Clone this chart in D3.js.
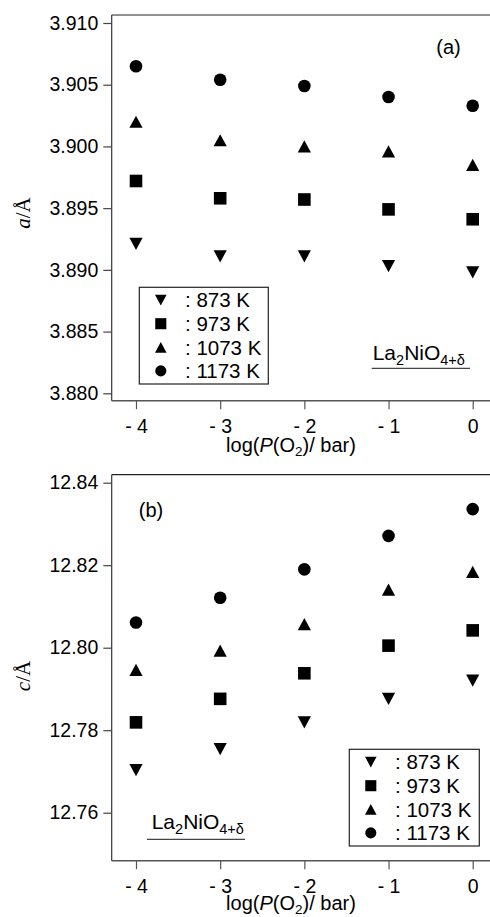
<!DOCTYPE html>
<html>
<head>
<meta charset="utf-8">
<script src="https://cdn.jsdelivr.net/npm/d3@7"></script>
<style>
  html, body { margin: 0; padding: 0; background: #fff; }
  svg { display: block; }
  text { font-family: "Liberation Sans", Arial, sans-serif; fill: #000; }
</style>
</head>
<body>
<svg id="chart" width="490" height="917"></svg>
<script>
// ---------- data ----------
const logP = [-4, -3, -2, -1, 0];
const tempLabels = ["873 K", "973 K", "1073 K", "1173 K"];
const symbolTypes = ["triangleDown", "square", "triangleUp", "circle"];

// lattice parameter a / Å
const a873  = [3.8921, 3.8911, 3.8911, 3.8903, 3.8898];
const a973  = [3.8972, 3.8958, 3.8957, 3.8949, 3.8941];
const a1073 = [3.9020, 3.9005, 3.9000, 3.8996, 3.8985];
const a1173 = [3.9065, 3.9054, 3.9049, 3.9040, 3.9033];

// lattice parameter c / Å
const c873  = [12.7703, 12.7754, 12.7819, 12.7876, 12.7920];
const c973  = [12.7819, 12.7876, 12.7938, 12.8005, 12.8042];
const c1073 = [12.7946, 12.7993, 12.8057, 12.8141, 12.8184];
const c1173 = [12.8061, 12.8121, 12.8190, 12.8271, 12.8336];

const xTicks = [-4, -3, -2, -1, 0];
const aTicks = [3.880, 3.885, 3.890, 3.895, 3.900, 3.905, 3.910];
const cTicks = [12.76, 12.78, 12.80, 12.82, 12.84];

const aSeries = [a873, a973, a1073, a1173];
const cSeries = [c873, c973, c1073, c1173];

// ---------- helpers ----------
function symbolPath(type, k) {
  k = k || 1;
  const r = 6.3 * k, s = 6.3 * k, w = 6.6 * k, h = 6.1 * k;
  switch (type) {
    case "circle":
      return `M${r},0A${r},${r} 0 1,1 ${-r},0A${r},${r} 0 1,1 ${r},0Z`;
    case "square":
      return `M${-s},${-s}H${s}V${s}H${-s}Z`;
    case "triangleUp":
      return `M0,${-h}L${w},${h}L${-w},${h}Z`;
    case "triangleDown":
      return `M0,${h}L${w},${-h}L${-w},${-h}Z`;
  }
}

const svg = d3.select("#chart");
const FRAME_LEFT = 111.7, FRAME_RIGHT = 490;
const x = d3.scaleLinear().domain([-4, 0]).range([136, 472.7]);

function drawPanel(opts) {
  const { top, bottom, y, ticks, fmt, series, labelChar, panelTag, tagPos, legendPos, formulaPos, ylabelY, titleY } = opts;
  const g = svg.append("g");

  // frame lines
  g.append("line").attr("x1", FRAME_LEFT).attr("x2", FRAME_RIGHT).attr("y1", top).attr("y2", top)
    .attr("stroke", "#222").attr("stroke-width", 1.2);
  g.append("line").attr("x1", FRAME_LEFT).attr("x2", FRAME_LEFT).attr("y1", top).attr("y2", bottom)
    .attr("stroke", "#333").attr("stroke-width", 1.2);
  g.append("line").attr("x1", FRAME_LEFT).attr("x2", FRAME_RIGHT).attr("y1", bottom).attr("y2", bottom)
    .attr("stroke", "#555").attr("stroke-width", 1.4);

  // y axis
  const yAxis = d3.axisLeft(y).tickValues(ticks).tickFormat(d3.format(fmt)).tickSize(8.4).tickPadding(5);
  const ya = g.append("g").attr("transform", `translate(${FRAME_LEFT},0)`).call(yAxis);
  ya.select(".domain").remove();
  ya.selectAll(".tick line").attr("stroke", "#444").attr("stroke-width", 1.2);
  ya.selectAll(".tick text").attr("font-size", 19.5).attr("font-family", "Liberation Sans, Arial, sans-serif").attr("fill", "#000");

  // x axis
  const xAxis = d3.axisBottom(x).tickValues(xTicks)
    .tickFormat(d => d < 0 ? "- " + Math.abs(d) : String(d)).tickSize(8.5).tickPadding(10.4);
  const xa = g.append("g").attr("transform", `translate(0,${bottom})`).call(xAxis);
  xa.select(".domain").remove();
  xa.selectAll(".tick line").attr("stroke", "#555").attr("stroke-width", 1.2);
  xa.selectAll(".tick text").attr("font-size", 19.5).attr("font-family", "Liberation Sans, Arial, sans-serif").attr("fill", "#000");

  // x title
  const xt = g.append("text").attr("x", 291).attr("y", titleY).attr("text-anchor", "middle").attr("font-size", 20);
  xt.append("tspan").text("log(");
  xt.append("tspan").attr("font-style", "italic").text("P");
  xt.append("tspan").text("(O");
  xt.append("tspan").attr("font-size", 13.5).attr("dy", 4).text("2");
  xt.append("tspan").attr("dy", -4).text(")/ bar)");

  // y title
  const yt = g.append("text").attr("transform", `translate(30,${ylabelY}) rotate(-90)`)
    .attr("text-anchor", "middle").attr("font-size", 21)
    .style("font-family", "'Liberation Serif', 'Times New Roman', serif");
  yt.append("tspan").attr("font-style", "italic").text(labelChar);
  yt.append("tspan").text("/Å");

  // data points
  series.forEach((vals, si) => {
    g.append("g").selectAll("path").data(vals).join("path")
      .attr("transform", (d, i) => `translate(${x(logP[i])},${y(d)})`)
      .attr("d", symbolPath(symbolTypes[si]))
      .attr("fill", "#000");
  });

  // panel tag
  g.append("text").attr("x", tagPos[0]).attr("y", tagPos[1]).attr("text-anchor", "middle")
    .attr("font-size", 20).text(panelTag);

  // legend
  const lg = g.append("g").attr("transform", `translate(${legendPos[0]},${legendPos[1]})`);
  lg.append("rect").attr("x", 0).attr("y", 0).attr("width", legendPos[2]).attr("height", 96.7)
    .attr("fill", "#fff").attr("stroke", "#222").attr("stroke-width", 1.2);
  tempLabels.forEach((t, i) => {
    const cy = 12.8 + i * 23.6;
    lg.append("path").attr("transform", `translate(21.5,${cy})`)
      .attr("d", symbolPath(symbolTypes[i], 0.88)).attr("fill", "#000");
    lg.append("text").attr("x", 45.7).attr("y", cy + 7.3).attr("font-size", 20.5).text(": " + t);
  });

  // formula label
  const fx = formulaPos[0], fy = formulaPos[1];
  const ft = g.append("text").attr("x", fx).attr("y", fy).attr("font-size", 21);
  ft.append("tspan").text("La");
  ft.append("tspan").attr("font-size", 14.5).attr("dy", 5).text("2");
  ft.append("tspan").attr("dy", -5).text("NiO");
  ft.append("tspan").attr("font-size", 14.5).attr("dy", 5).text("4+δ");
  g.append("line").attr("x1", formulaPos[2]).attr("x2", formulaPos[3])
    .attr("y1", formulaPos[4]).attr("y2", formulaPos[4]).attr("stroke", "#444").attr("stroke-width", 1.2);
}

// Panel (a)
drawPanel({
  top: 15, bottom: 400.7,
  y: d3.scaleLinear().domain([3.880, 3.910]).range([393.3, 23]),
  ticks: aTicks, fmt: ".3f", series: aSeries, labelChar: "a",
  panelTag: "(a)", tagPos: [448.5, 54],
  legendPos: [139.3, 287.3, 129],
  formulaPos: [372.7, 359.5, 371.7, 470, 368.3],
  ylabelY: 213, titleY: 452
});

// Panel (b)
drawPanel({
  top: 474.7, bottom: 860.7,
  y: d3.scaleLinear().domain([12.76, 12.84]).range([812.7, 482.7]),
  ticks: cTicks, fmt: ".2f", series: cSeries, labelChar: "c",
  panelTag: "(b)", tagPos: [151, 517],
  legendPos: [349.3, 749.3, 130],
  formulaPos: [151.7, 829, 147, 245, 839.3],
  ylabelY: 676, titleY: 910
});
</script>
</body>
</html>
